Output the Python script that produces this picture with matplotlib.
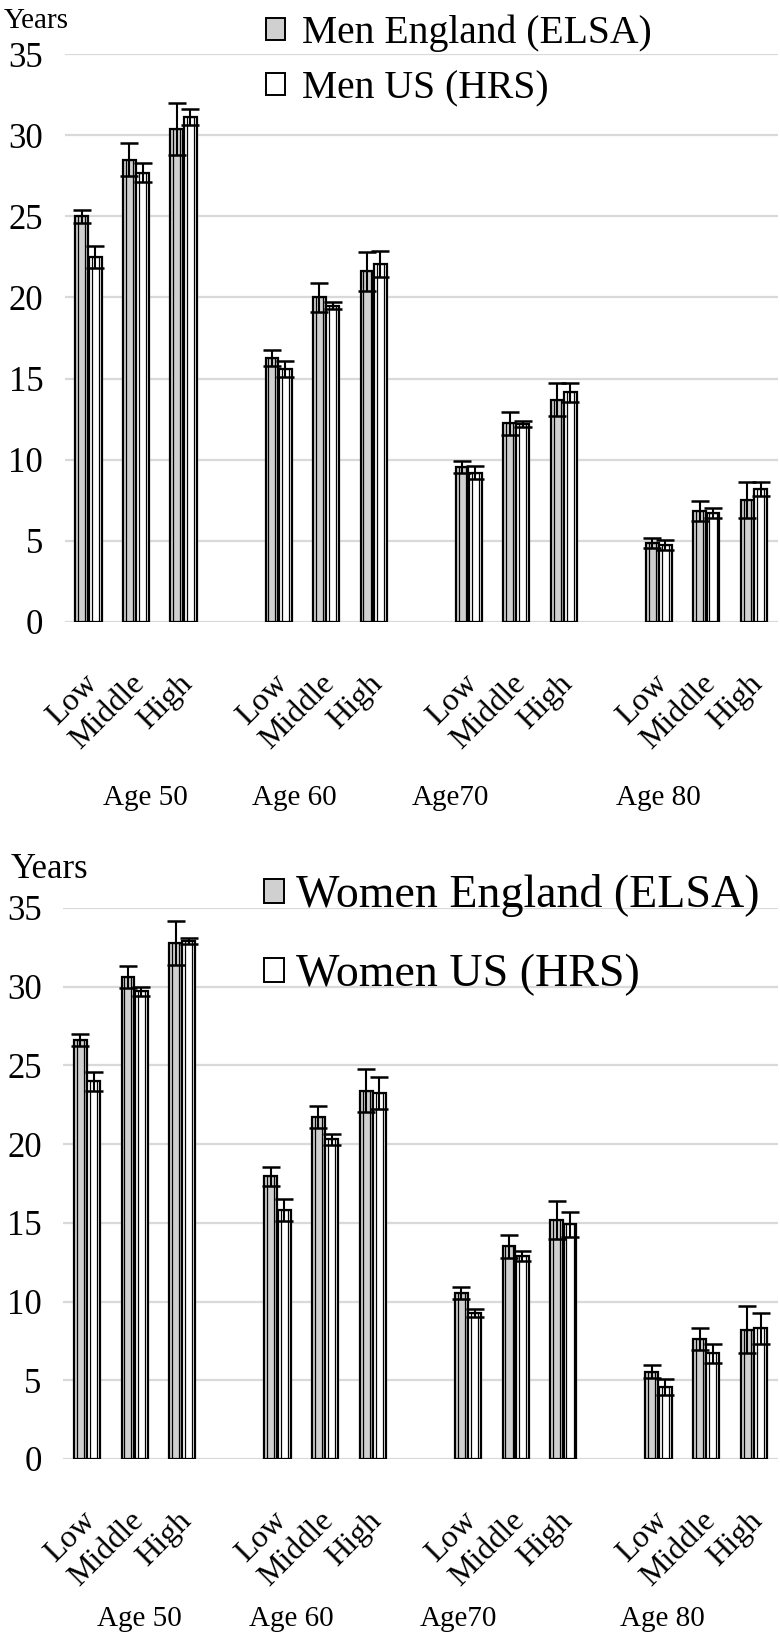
import numpy as np
import matplotlib
matplotlib.use("Agg")
import matplotlib.pyplot as plt
from matplotlib.patches import Patch

plt.rcParams['font.family'] = ['Liberation Serif', 'DejaVu Serif']

# categories: 4 age groups x 3 education levels, blank slot between groups
levels = ["Low", "Middle", "High"]
ages = ["Age 50", "Age 60", "Age70", "Age 80"]

# men, life expectancy (years) and half-width of CI
men_elsa = [25.0, 28.5, 30.4, 16.25, 20.0, 21.6, 9.55, 12.25, 13.7, 4.85, 6.85, 7.5]
men_elsa_err = [0.4, 1.0, 1.6, 0.5, 0.9, 1.2, 0.4, 0.7, 1.0, 0.3, 0.6, 1.1]
men_hrs = [22.5, 27.7, 31.1, 15.6, 19.5, 22.05, 9.2, 12.2, 14.15, 4.75, 6.7, 8.2]
men_hrs_err = [0.7, 0.6, 0.5, 0.5, 0.2, 0.8, 0.4, 0.2, 0.6, 0.3, 0.3, 0.45]

# women
women_elsa = [26.6, 30.6, 32.8, 17.95, 21.7, 23.4, 10.55, 13.5, 15.2, 5.55, 7.65, 8.2]
women_elsa_err = [0.4, 0.7, 1.4, 0.6, 0.7, 1.35, 0.4, 0.75, 1.2, 0.4, 0.7, 1.5]
women_hrs = [24.0, 29.7, 32.9, 15.8, 20.3, 23.25, 9.25, 12.9, 14.9, 4.55, 6.7, 8.3]
women_hrs_err = [0.6, 0.3, 0.2, 0.7, 0.35, 1.0, 0.25, 0.3, 0.8, 0.5, 0.6, 1.0]

GRAY = "#d0d0d0"


def slots():
    # positions of the 12 real categories on a 15 slot axis
    return np.array([g * 4 + i for g in range(4) for i in range(3)])


def panel(ax, elsa, elsa_err, hrs, hrs_err, age_x, age_y, years_pos, years_size):
    x = slots()
    w = 0.27
    for vals, errs, off, fc in [(elsa, elsa_err, -w / 2 - 0.005, GRAY), (hrs, hrs_err, w / 2 + 0.005, "white")]:
        ax.bar(x + off, vals, w, color=fc, edgecolor="black", linewidth=1.6, zorder=3)
        ax.bar(x + off, vals, w * 0.55, color="none", edgecolor="black", linewidth=0.9, zorder=4)
        ax.errorbar(x + off, vals, yerr=errs, fmt="none", ecolor="black", elinewidth=1.5,
                    capsize=6.5, capthick=1.8, zorder=5)
    ax.set_xlim(-0.5, 14.5)
    ax.set_ylim(0, 35)
    ax.set_yticks(range(0, 36, 5))
    ax.yaxis.grid(True, color="#d9d9d9", linewidth=1.6, zorder=0)
    ax.set_axisbelow(True)
    for s in ax.spines.values():
        s.set_visible(False)
    names = [levels[i] for g in range(4) for i in range(3)]
    ax.set_xticks(x - 0.12)
    ax.set_xticklabels(names, rotation=45, ha="right", rotation_mode="anchor", fontsize=23)
    ax.tick_params(axis="x", length=0, pad=34)
    ax.tick_params(axis="y", length=0, pad=15.5, labelsize=25)
    ax.text(years_pos[0], years_pos[1], "Years", transform=ax.transAxes,
            fontsize=years_size, ha="left", va="bottom")
    trans = ax.get_xaxis_transform()
    for name, gx in zip(ages, age_x):
        ax.text(gx, age_y, name, transform=trans, fontsize=21, ha="center", va="center")


fig = plt.figure(figsize=(7.8, 16.38), dpi=100)

ax1 = fig.add_axes([0.083, 0.6203, 0.914, 0.3467])
panel(ax1, men_elsa, men_elsa_err, men_hrs, men_hrs_err, [1.2, 4.32, 7.62, 11.98], -0.31,
      (-0.085, 1.035), 21)
h1 = [Patch(facecolor=GRAY, edgecolor="black", linewidth=1.4),
      Patch(facecolor="white", edgecolor="black", linewidth=1.4)]
fig.legend(h1, ["Men England (ELSA)", "Men US (HRS)"], loc="upper left",
           bbox_to_anchor=(0.341, 0.991), frameon=False, fontsize=28.5,
           handlelength=0.49, handleheight=0.49, handletextpad=0.42,
           labelspacing=0.45, borderpad=0, borderaxespad=0)

ax2 = fig.add_axes([0.081, 0.1093, 0.916, 0.3364])
panel(ax2, women_elsa, women_elsa_err, women_hrs, women_hrs_err, [1.09, 4.28, 7.79, 12.09], -0.29,
      (-0.073, 1.04), 25)
h2 = [Patch(facecolor=GRAY, edgecolor="black", linewidth=1.4),
      Patch(facecolor="white", edgecolor="black", linewidth=1.4)]
fig.legend(h2, ["Women England (ELSA)", "Women US (HRS)"], loc="upper left",
           bbox_to_anchor=(0.339, 0.4663), frameon=False, fontsize=33,
           handlelength=0.43, handleheight=0.43, handletextpad=0.25,
           labelspacing=0.8, borderpad=0, borderaxespad=0)

fig.savefig("out.png", dpi=100)
